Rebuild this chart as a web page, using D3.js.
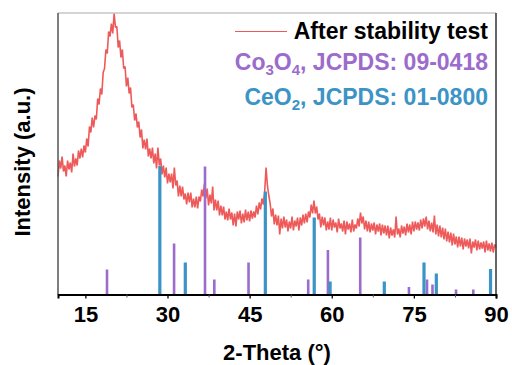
<!DOCTYPE html>
<html><head><meta charset="utf-8">
<script src="https://cdn.jsdelivr.net/npm/d3@7"></script>
<style>body{margin:0;background:#fff}svg{display:block}text{font-family:"Liberation Sans",Arial,sans-serif;font-weight:bold}</style>
</head><body><svg id="c" width="512" height="365"></svg>
<script>
// 2-theta start/step for measured pattern
const thetaStart = 10, thetaStep = 0.25;
// measured intensity (a.u.), one value per 0.25 deg from 10 to 90
const intensity = [
118,134,126,138,123,129,118,134,125,132,122,141,128,136,129,144,136,146,137,149,
142,156,148,168,162,177,167,179,175,196,190,206,200,222,226,245,241,263,258,271,
261,281,267,268,247,254,237,245,226,228,208,217,201,207,187,190,174,181,167,173,
157,165,146,155,145,156,138,146,136,147,131,141,126,147,129,136,120,129,117,127,
111,121,112,121,106,127,109,114,98,109,98,108,95,101,90,102,92,102,87,96,
87,98,86,98,93,105,98,111,96,106,89,100,91,108,84,95,84,94,79,89,
79,88,75,83,74,86,75,82,69,81,68,83,75,84,71,81,72,85,74,83,
73,84,76,83,77,89,80,92,85,96,90,103,127,109,99,91,78,86,70,80,
69,79,60,76,66,78,67,75,63,73,66,78,64,74,68,77,64,77,69,80,
71,81,72,83,77,90,81,94,81,88,75,81,67,78,69,77,64,73,65,77,
64,75,67,72,62,76,66,71,63,74,60,73,65,71,62,75,63,70,66,76,
68,82,71,78,65,74,63,73,62,71,64,72,60,70,63,71,59,70,61,69,
59,69,56,67,59,65,57,78,60,66,57,69,61,68,59,71,62,70,60,73,
63,73,65,72,64,75,66,76,68,78,65,74,63,72,62,79,60,70,58,69,
57,67,55,66,53,63,52,62,49,61,50,58,47,58,48,57,45,56,48,55,
46,56,41,53,47,55,44,54,45,52,46,53,42,54,44,51,43,52,42,50,
47];
// reference patterns (2-theta, relative intensity in same a.u.)
const co3o4Theta = [18.95, 31.2, 36.85, 38.55, 44.8, 55.7, 59.3, 65.2, 74.1, 77.4, 78.4, 82.7, 85.85];
const co3o4Int   = [25, 51, 128, 15, 32, 15, 44.5, 57, 7.5, 15, 10, 5, 5];
const ceo2Theta  = [28.6, 33.25, 47.87, 56.8, 59.7, 69.6, 76.85, 79.1, 89.0];
const ceo2Int    = [128.5, 32, 103, 77, 13, 13, 32, 21, 25.5];
const xTicks = [15, 30, 45, 60, 75, 90];
const xMinorTicks = [22.5, 37.5, 52.5, 67.5, 82.5];
const legendLabels = ["After stability test", "Co3O4, JCPDS: 09-0418", "CeO2, JCPDS: 01-0800"];

const red = "#ee5a5a", purple = "#9b6ccb", blue = "#3b94c5";
const L = 58, R = 496, T = 13, B = 294.5;
const svg = d3.select("#c");
const x = d3.scaleLinear().domain([10, 90]).range([L, R]);
const y = d3.scaleLinear().domain([0, 281.5]).range([B, T]);

const pts = intensity.map((v, i) => [thetaStart + i * thetaStep, v]);
svg.append("path").datum(pts)
  .attr("d", d3.line().x(d => x(d[0])).y(d => y(d[1])))
  .attr("fill", "none").attr("stroke", red).attr("stroke-width", 1.6).attr("stroke-linejoin", "bevel");

function bars(th, it, col, w) {
  svg.append("g").selectAll("rect").data(th.map((t, i) => [t, it[i]])).join("rect")
    .attr("x", d => x(d[0]) - w / 2).attr("width", w)
    .attr("y", d => y(d[1])).attr("height", d => y(0) - y(d[1]))
    .attr("fill", col);
}
bars(co3o4Theta, co3o4Int, purple, 2.6);
bars(ceo2Theta, ceo2Int, blue, 3.2);

// frame
svg.append("line").attr("x1", L).attr("x2", R).attr("y1", T).attr("y2", T).attr("stroke", "#aaa").attr("stroke-width", 1);
svg.append("line").attr("x1", R).attr("x2", R).attr("y1", T).attr("y2", B).attr("stroke", "#333").attr("stroke-width", 1.5);
svg.append("line").attr("x1", L).attr("x2", L).attr("y1", T).attr("y2", B).attr("stroke", "#555").attr("stroke-width", 1.5);

// x axis
const ax = svg.append("g").attr("transform", `translate(0,${B})`)
  .call(d3.axisBottom(x).tickValues(xTicks).tickSize(4).tickPadding(8).tickFormat(d3.format("d")));
ax.select(".domain").attr("stroke", "#000").attr("stroke-width", 2);
ax.selectAll(".tick line").attr("stroke", "#000").attr("stroke-width", 1.3);
ax.selectAll(".tick text").attr("font-size", 22).attr("fill", "#000").attr("font-family", "Liberation Sans, Arial, sans-serif").attr("font-weight", "bold");
svg.append("g").attr("transform", `translate(0,${B})`)
  .call(d3.axisBottom(x).tickValues(xMinorTicks).tickSize(3).tickFormat(""))
  .call(g => g.select(".domain").remove())
  .selectAll("line").attr("stroke", "#555").attr("stroke-width", 1);

svg.append("text").attr("x", 277).attr("y", 360).attr("text-anchor", "middle").attr("font-size", 22).text("2-Theta (°)");
svg.append("text").attr("transform", "translate(30,162) rotate(-90)").attr("text-anchor", "middle").attr("font-size", 22).text("Intensity (a.u.)");

// legend
svg.append("line").attr("x1", 235).attr("x2", 287).attr("y1", 31.5).attr("y2", 31.5).attr("stroke", red).attr("stroke-width", 1);
svg.append("text").attr("x", 488).attr("y", 38.5).attr("text-anchor", "end").attr("font-size", 23).attr("fill", "#000").text(legendLabels[0]);
function subText(yb, col, parts) {
  const t = svg.append("text").attr("x", 488).attr("y", yb).attr("text-anchor", "end").attr("font-size", 23).attr("fill", col);
  parts.forEach(p => {
    const s = t.append("tspan").text(p[0]);
    if (p[1]) s.attr("font-size", 15).attr("dy", 5);
    else if (p[2]) s.attr("dy", -5);
  });
}
subText(70, purple, [["Co"], ["3", 1], ["O", 0, 1], ["4", 1], [", JCPDS: 09-0418", 0, 1]]);
subText(105, blue, [["CeO"], ["2", 1], [", JCPDS: 01-0800", 0, 1]]);
</script></body></html>
